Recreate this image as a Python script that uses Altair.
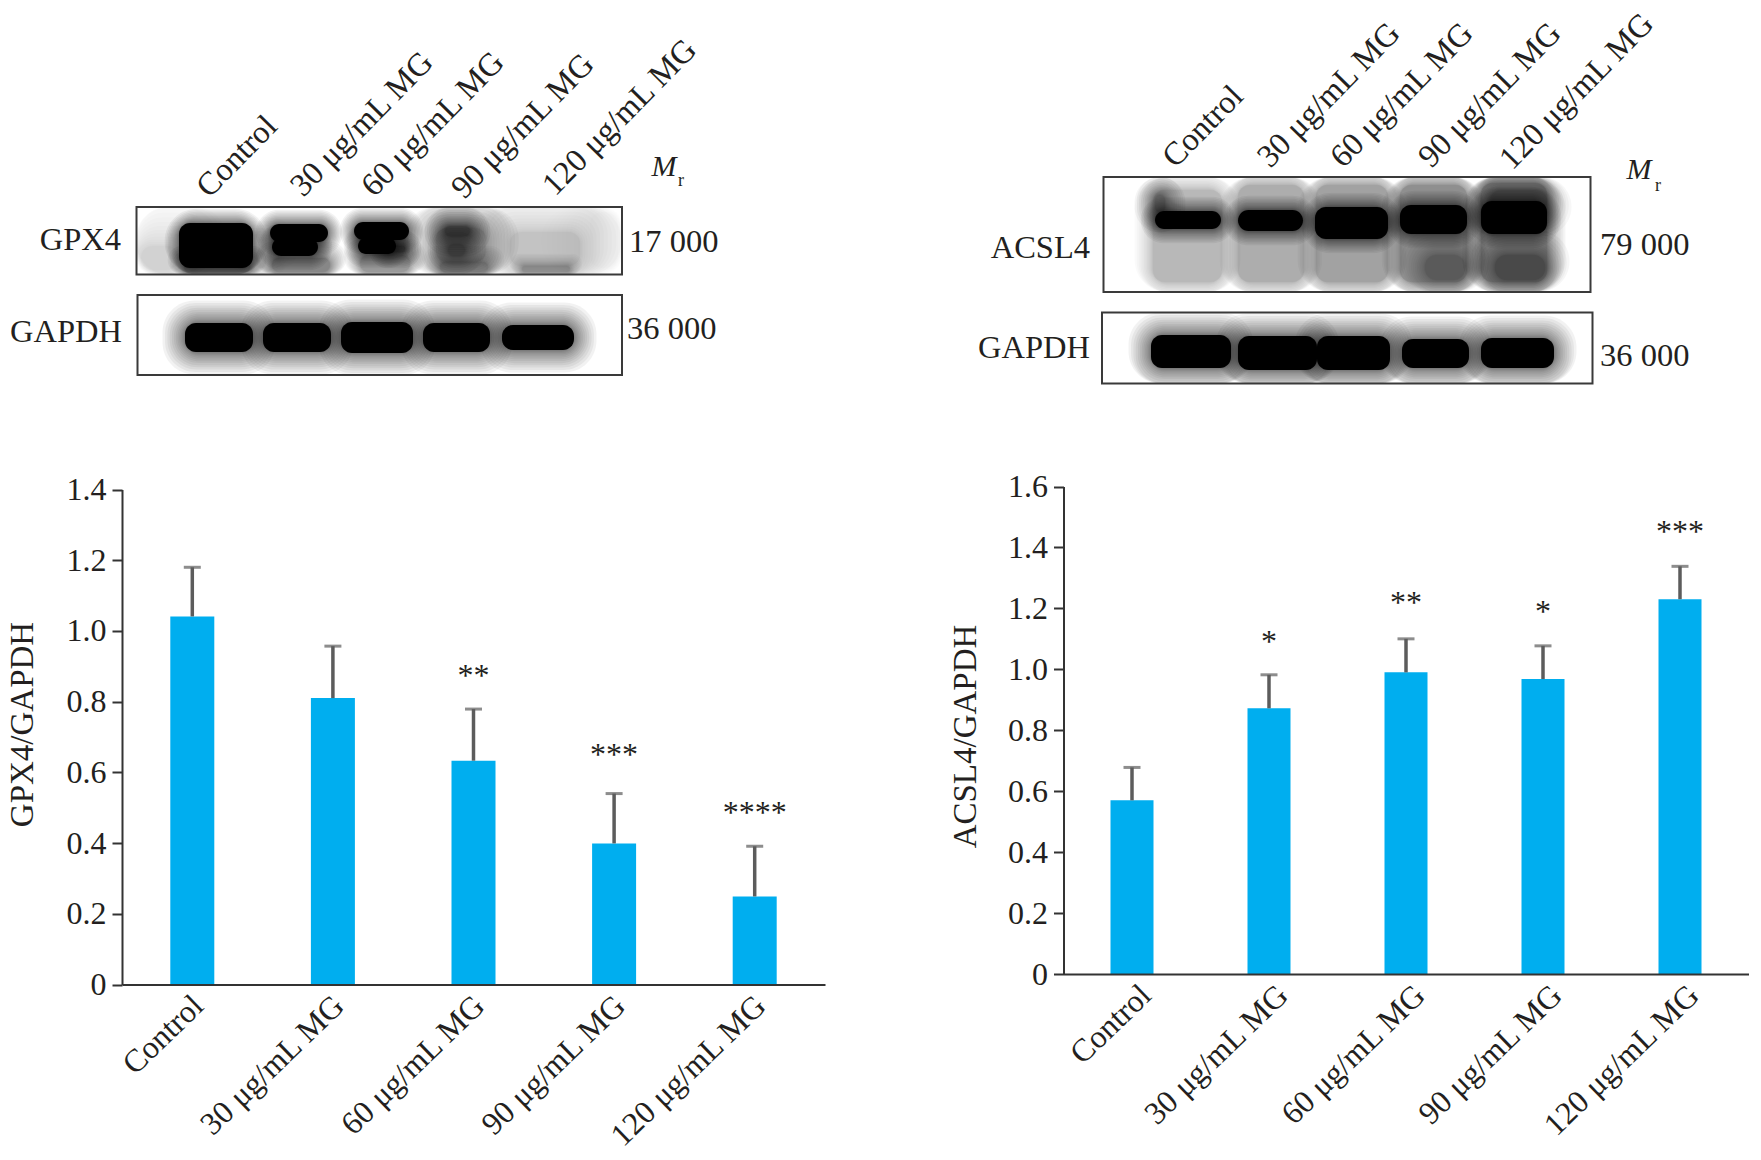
import altair as alt
import pandas as pd

FONT = "Liberation Serif"
INK = "#231f20"
BLUE = "#00AEEF"
ERR = "#5c5c5c"

CATS = ["Control", "30 μg/mL MG", "60 μg/mL MG", "90 μg/mL MG", "120 μg/mL MG"]

GPX4_MEAN = [1.041, 0.81, 0.633, 0.399, 0.249]
GPX4_UP = [1.18, 0.957, 0.779, 0.54, 0.391]
GPX4_STAR_CAT = CATS[2:]
GPX4_STAR_Y = [0.892, 0.668, 0.505]
GPX4_STARS = ["**", "***", "****"]

ACSL4_MEAN = [0.57, 0.872, 0.99, 0.968, 1.23]
ACSL4_UP = [0.678, 0.982, 1.10, 1.077, 1.338]
ACSL4_STAR_CAT = CATS[1:]
ACSL4_STAR_Y = [1.111, 1.240, 1.211, 1.473]
ACSL4_STARS = ["*", "**", "*", "***"]

GPX4_TICKS = [0, 0.2, 0.4, 0.6, 0.8, 1.0, 1.2, 1.4]
ACSL4_TICKS = [0, 0.2, 0.4, 0.6, 0.8, 1.0, 1.2, 1.4, 1.6]

# blot frames: x1, x2, y1, y2
LEFT_FRAMES = [(136.5, 622, 207, 274.5), (137.5, 622, 295, 375)]
RIGHT_FRAMES = [(1103.5, 1590.5, 177, 292), (1102, 1592.5, 312.5, 383.5)]

# blot patches: x1, x2, y1, y2, darkness, softness
LEFT_BLOBS = [
    (141, 178, 246, 270, 0.16, 1.2), (255, 266, 250, 268, 0.15, 0.8), (590, 618, 212, 268, 0.06, 1.2),
    (184, 250, 262, 272, 0.55, 0.4), (272, 330, 258, 272, 0.5, 0.4), (360, 410, 255, 272, 0.4, 0.4),
    (179, 253, 223, 268, 1, 0.35),
    (270, 328, 224, 242, 1, 0.35), (272, 318, 238, 256, 1, 0.35),
    (354, 409, 222, 240, 1, 0.35), (358, 396, 238, 254, 1, 0.35), (385, 405, 246, 252, 0.8, 0.4),
    (436, 486, 228, 262, 0.4, 0.8), (445, 470, 226, 236, 0.7, 0.5), (448, 465, 244, 256, 0.5, 0.5),
    (440, 488, 262, 272, 0.35, 0.4),
    (510, 580, 232, 266, 0.2, 1), (522, 570, 266, 272, 0.3, 0.3),
    (185, 253, 323, 352, 1, 0.55), (263, 331, 323, 352, 1, 0.55), (341, 413, 322, 353, 1, 0.55),
    (423, 490, 323, 352, 1, 0.55), (502, 574, 325, 350, 1, 0.55),
]
RIGHT_BLOBS = [
    (1153, 1222, 190, 282, 0.24, 0.45), (1238, 1304, 185, 282, 0.3, 0.45), (1316, 1388, 185, 282, 0.38, 0.45),
    (1400, 1467, 185, 282, 0.45, 0.45), (1481, 1547, 183, 282, 0.5, 0.45),
    (1155, 1165, 195, 212, 0.5, 0.5), (1490, 1547, 190, 212, 0.4, 0.6),
    (1425, 1465, 255, 280, 0.35, 0.6), (1495, 1545, 255, 280, 0.45, 0.6),
    (1155, 1221, 211, 229, 1, 0.35), (1238, 1303, 210, 231, 1, 0.35), (1315, 1388, 207, 239, 1, 0.35),
    (1400, 1467, 205, 234, 1, 0.35), (1481, 1547, 201, 234, 1, 0.35),
    (1151, 1231, 335, 368, 1, 0.55), (1238, 1317, 336, 370, 1, 0.55), (1317, 1390, 336, 370, 1, 0.55),
    (1402, 1469, 339, 368, 1, 0.55), (1481, 1554, 338, 368, 1, 0.55),
]

# blot texts
LEFT_LANE_X = [202, 296, 367, 457, 548]
LEFT_LANE_Y = [192, 191, 191, 193, 190]
RIGHT_LANE_X = [1168, 1263, 1336, 1424, 1505]
RIGHT_LANE_Y = [162, 162, 162, 162, 164]
LEFT_NAMES = (["GPX4", "GAPDH"], [121, 122], [240, 332])
RIGHT_NAMES = (["ACSL4", "GAPDH"], [1090, 1090], [248, 348])
LEFT_MASS = (["17 000", "36 000"], [629, 627], [242, 329])
RIGHT_MASS = (["79 000", "36 000"], [1600, 1600], [245, 356])
LEFT_MR = (664, 167, 681, 181)
RIGHT_MR = (1639, 170, 1658, 186)


def canvas(x0, width, bottom, frames, blobs, lane_x, lane_y, names, mass, mr, anchor=False):
    top = 0.0
    sx = alt.Scale(domain=[x0, x0 + width], range=[0, width], nice=False, zero=False)
    sy = alt.Scale(domain=[top, bottom], range=[0, bottom - top], nice=False, zero=False)
    X = alt.X("x:Q", scale=sx, axis=None)
    Y = alt.Y("y:Q", scale=sy, axis=None)
    layers = []
    in_frame = lambda y: next(f for f in frames if f[2] <= y <= f[3])
    levels = 14
    for k in range(levels, -1, -1):
        rows = []
        for x1, x2, y1, y2, dark, soft in blobs:
            f = in_frame((y1 + y2) / 2)
            e = k ** 1.6 * soft * 0.6
            alpha = (1 if k == 0 else 0.05) if dark == 1 else dark / (levels + 1) * 1.15
            rows.append({
                "x": max(x1 - e, f[0]), "x2": min(x2 + e, f[1]),
                "y": max(y1 - e, f[2]), "y2": min(y2 + e, f[3]),
                "o": alpha,
            })
        layers.append(
            alt.Chart(pd.DataFrame(rows))
            .mark_rect(color="#000000", cornerRadius=11 + k * 1.5)
            .encode(x=X, x2="x2:Q", y=Y, y2="y2:Q",
                    opacity=alt.Opacity("o:Q", scale=None, legend=None))
        )
    fdf = pd.DataFrame([{"x": f[0], "x2": f[1], "y": f[2], "y2": f[3]} for f in frames])
    layers.append(
        alt.Chart(fdf).mark_rect(fillOpacity=0, stroke="#3a3a3a", strokeWidth=2)
        .encode(x=X, x2="x2:Q", y=Y, y2="y2:Q")
    )
    lanes = pd.DataFrame({"x": lane_x, "y": lane_y, "t": CATS})
    layers.append(
        alt.Chart(lanes).mark_text(font=FONT, fontSize=32.5, color=INK, align="left",
                                   baseline="middle", angle=314.5)
        .encode(x=X, y=Y, text="t:N")
    )
    ndf = pd.DataFrame({"x": names[1], "y": names[2], "t": names[0]})
    layers.append(
        alt.Chart(ndf).mark_text(font=FONT, fontSize=32.5, color=INK, align="right", baseline="middle")
        .encode(x=X, y=Y, text="t:N")
    )
    mdf = pd.DataFrame({"x": mass[1], "y": mass[2], "t": mass[0]})
    layers.append(
        alt.Chart(mdf).mark_text(font=FONT, fontSize=32.5, color=INK, align="left", baseline="middle")
        .encode(x=X, y=Y, text="t:N")
    )
    layers.append(
        alt.Chart(pd.DataFrame({"x": [mr[0]], "y": [mr[1]], "t": ["M"]}))
        .mark_text(font=FONT, fontSize=30, fontStyle="italic", color=INK, align="center", baseline="middle")
        .encode(x=X, y=Y, text="t:N")
    )
    layers.append(
        alt.Chart(pd.DataFrame({"x": [mr[2]], "y": [mr[3]], "t": ["r"]}))
        .mark_text(font=FONT, fontSize=18, color=INK, align="center", baseline="middle")
        .encode(x=X, y=Y, text="t:N")
    )
    if anchor:
        layers.append(
            alt.Chart(pd.DataFrame({"x": [0.0], "y": [0.0], "x2": [1.0], "y2": [1.0]}))
            .mark_rule(opacity=0).encode(x=X, x2="x2:Q", y=Y, y2="y2:Q")
        )
    return alt.layer(*layers).properties(width=width, height=bottom - top)


def bars(width, height, top_gap, ymax, ticks, mean, up, star_cat, star_y, stars, title, title_x, title_y, bar_w, lab_off):
    df = pd.DataFrame({"c": CATS, "v": mean, "u": up})
    sdf = pd.DataFrame({"c": star_cat, "s": star_y, "t": stars})
    sx = alt.Scale(domain=CATS, paddingInner=0.69, paddingOuter=0.345)
    sy = alt.Scale(domain=[0, ymax], range=[height, top_gap], nice=False, zero=True)
    X = alt.X("c:N", sort=CATS, scale=sx, title=None,
              axis=alt.Axis(labelAngle=-44, labelAlign="right", labelBaseline="middle",
                            labelFont=FONT, labelFontSize=32, labelColor=INK, labelPadding=16,
                            labelOffset=lab_off, labelLimit=0, labelOverlap=False, ticks=False,
                            domainColor="#333333", domainWidth=2, zindex=1))
    yaxis = alt.Axis(values=ticks, labelExpr="datum.value == 0 ? '0' : format(datum.value, '.1f')",
                     labelFont=FONT, labelFontSize=32, labelColor=INK, labelPadding=6,
                     tickSize=10, tickWidth=2, tickColor="#333333", domainColor="#333333",
                     domainWidth=2, grid=False, labelOverlap=False, labelBound=False,
                     title=title, titleFont=FONT, titleFontSize=33, titleFontWeight="normal",
                     titleColor=INK, titleX=title_x, titleY=title_y, titleAngle=270,
                     titleBaseline="alphabetic", titleAlign="center")
    Yv = alt.Y("v:Q", scale=sy, axis=yaxis, title=title)
    Yu = alt.Y("u:Q", scale=sy, axis=yaxis, title=title)
    Ys = alt.Y("s:Q", scale=sy, axis=yaxis, title=title)
    return alt.layer(
        alt.Chart(df).mark_bar(size=bar_w, color=BLUE).encode(x=X, y=Yv),
        alt.Chart(df).mark_rule(color=ERR, strokeWidth=3.5).encode(x=X, y=Yv, y2="u:Q"),
        alt.Chart(df).mark_tick(color=ERR, orient="horizontal", size=17, thickness=3).encode(x=X, y=Yu),
        alt.Chart(sdf).mark_text(font=FONT, fontSize=32, color=INK, baseline="middle", dy=7)
        .encode(x=X, y=Ys, text="t:N"),
    ).properties(width=width, height=height)


ROW_TOP = 485
top_left = canvas(122, 703, ROW_TOP, LEFT_FRAMES, LEFT_BLOBS, LEFT_LANE_X, LEFT_LANE_Y, LEFT_NAMES, LEFT_MASS, LEFT_MR, anchor=True)
top_right = canvas(1063.5, 685, ROW_TOP, RIGHT_FRAMES, RIGHT_BLOBS, RIGHT_LANE_X, RIGHT_LANE_Y, RIGHT_NAMES, RIGHT_MASS, RIGHT_MR)
bottom_left = bars(703, 499.5, 4.5, 1.4, GPX4_TICKS, GPX4_MEAN, GPX4_UP, GPX4_STAR_CAT, GPX4_STAR_Y, GPX4_STARS,
                   "GPX4/GAPDH", -90, 239, 44, 6)
bottom_right = bars(685, 489, 1.5, 1.6, ACSL4_TICKS, ACSL4_MEAN, ACSL4_UP, ACSL4_STAR_CAT, ACSL4_STAR_Y, ACSL4_STARS,
                    "ACSL4/GAPDH", -88, 251, 43, 14)

chart = alt.concat(top_left, top_right, bottom_left, bottom_right, columns=2,
                   spacing={"column": 238.5, "row": 0}, bounds="flush",
                   padding={"left": -8, "top": -8, "right": 0, "bottom": 0}
                   ).configure_view(stroke=None)

chart.save("out.html", embed_options={"renderer": "svg", "actions": False})
